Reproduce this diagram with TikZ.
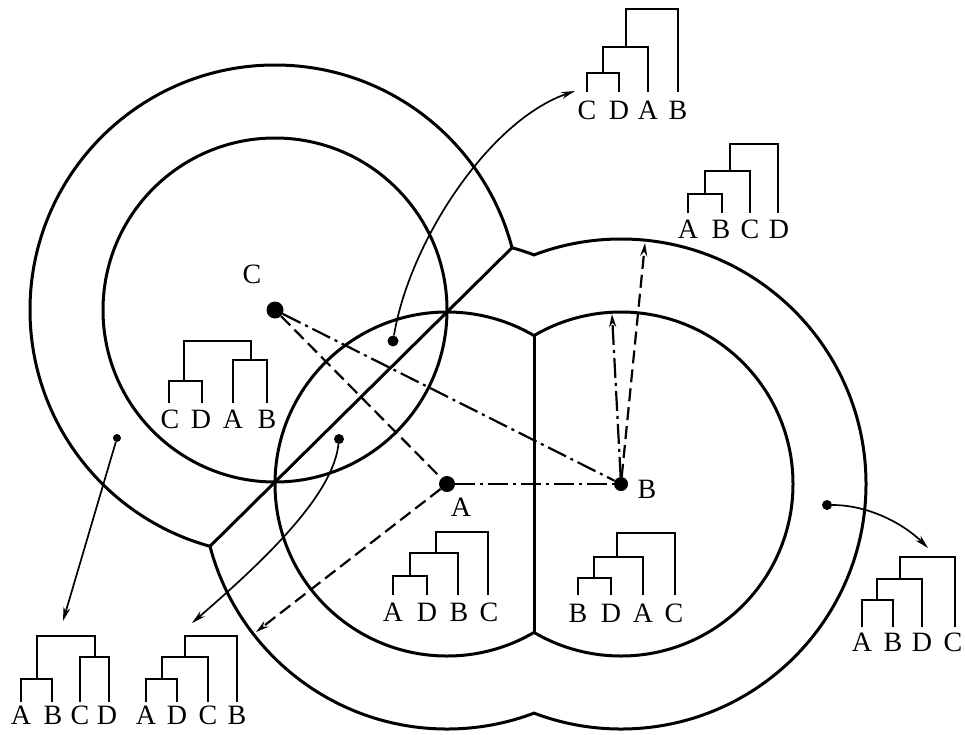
\documentclass[tikz,border=0pt]{standalone}
\usepackage{fontspec}
\setmainfont{Liberation Serif}
\usetikzlibrary{arrows.meta,calc}
\begin{document}
\begin{tikzpicture}[x=1pt,y=-1pt,
  ring/.style={line width=3pt},
  tree/.style={line width=2.5pt,line join=miter},
  lbl/.style={font=\fontsize{28}{28}\selectfont,inner sep=0pt,anchor=base},
  bigdot/.style={circle,fill=black,inner sep=0pt,minimum size=#1},
  smalldot/.style={circle,fill=black,inner sep=0pt,minimum size=#1},
  conn/.style={line width=2.2pt},
  longdash/.style={conn,dash pattern=on 13pt off 6pt},
  dashdotline/.style={conn,dash pattern=on 20pt off 5pt on 3pt off 5pt},
  tip/.style={-{Stealth[length=13pt,width=7pt]}},
  thin arrow/.style={line width=1.7pt,-{Stealth[length=14pt,width=7pt]}}
]
\useasboundingbox (0,0) rectangle (965,734);

% geometry
\coordinate (Cc) at (275,310);
\coordinate (Ac) at (447,484);
\coordinate (Bc) at (621,484);
\coordinate (P1) at (511.97,247.77);
\coordinate (P2) at (210.03,546.23);

% inner circles
\draw[ring] (Cc) circle[radius=172];
\begin{scope}
  \clip (-100,-100) rectangle (534,900);
  \draw[ring] (Ac) circle[radius=172];
\end{scope}
\begin{scope}
  \clip (534,-100) rectangle (1100,900);
  \draw[ring] (Bc) circle[radius=172];
\end{scope}
\draw[ring] (534,335.6) -- (534,632.4);

% outer circles
\begin{scope}
  \clip ($(P1)!-3!(P2)$) -- ($(P2)!-3!(P1)$) -- (-700,-700) -- cycle;
  \draw[ring] (Cc) circle[radius=245];
\end{scope}
\begin{scope}
  \clip ($(P1)!-3!(P2)$) -- ($(P2)!-3!(P1)$) -- (1500,1500) -- cycle;
  \clip (-100,-100) rectangle (534,900);
  \draw[ring] (Ac) circle[radius=245];
\end{scope}
\begin{scope}
  \clip (534,-100) rectangle (1100,900);
  \draw[ring] (Bc) circle[radius=245];
\end{scope}
\draw[ring] (P1) -- (P2);

% points
\node[bigdot=17pt] (C) at (Cc) {};
\node[bigdot=16pt] (A) at (Ac) {};
\node[bigdot=14pt] (B) at (Bc) {};
\node[lbl] (lC) at (252,283) {C};
\node[lbl] (lA) at (461,516) {A};
\node[lbl] (lB) at (647,498) {B};

\node[smalldot=11pt] (d1) at (393,341) {};
\node[smalldot=10pt] (d2) at (339,439) {};
\node[smalldot=8pt] (d3) at (117,438) {};
\node[smalldot=10pt] (d4) at (827,505) {};

\coordinate (t1) at (575,91);
\coordinate (t2) at (192,623);
\coordinate (t3) at (63,621);
\coordinate (t4) at (928,548);
\coordinate (tA) at (256,632);
\coordinate (tB1) at (612,314);
\coordinate (tB2) at (645,243);

% connectors
\draw[longdash] (C) -- (A);
\draw[dashdotline] (C) -- (B);
\draw[dashdotline] (A) -- (B);
\draw[dashdotline,tip] (B) -- (tB1);
\draw[longdash,tip] (B) -- (tB2);
\draw[longdash,tip] (A) -- (tA);
\draw[thin arrow] (d1) .. controls (410,240) and (490,120) .. (t1);
\draw[thin arrow] (d2) .. controls (333,495) and (265,560) .. (t2);
\draw[thin arrow] (d3) -- (t3);
\draw[thin arrow] (d4) .. controls (870,505) and (905,525) .. (t4);

% tree 1: ((C,D),A),B
\draw[tree] (587,92) -- (587,73) -- (619,73) -- (619,92)
  (603,73) -- (603,47) -- (648,47) -- (648,92)
  (626,47) -- (626,9) -- (678,9) -- (678,92);
\node[lbl] (t1C) at (587,119) {C};
\node[lbl] (t1D) at (619,119) {D};
\node[lbl] (t1A) at (648,119) {A};
\node[lbl] (t1B) at (678,119) {B};

% tree 2: ((A,B),C),D
\draw[tree] (688,213) -- (688,194) -- (722,194) -- (722,213)
  (705,194) -- (705,171) -- (750,171) -- (750,213)
  (730,171) -- (730,144) -- (778,144) -- (778,213);
\node[lbl] (t2A) at (688,238) {A};
\node[lbl] (t2B) at (721,238) {B};
\node[lbl] (t2C) at (750,238) {C};
\node[lbl] (t2D) at (779,238) {D};

% tree 3: (C,D),(A,B)
\draw[tree] (169,403) -- (169,381) -- (202,381) -- (202,403)
  (233,403) -- (233,360) -- (267,360) -- (267,403)
  (184,381) -- (184,341) -- (251,341) -- (251,360);
\node[lbl] (t3C) at (170,428) {C};
\node[lbl] (t3D) at (201,428) {D};
\node[lbl] (t3A) at (233,428) {A};
\node[lbl] (t3B) at (267,428) {B};

% tree 4: ((A,D),B),C
\draw[tree] (393,595) -- (393,576) -- (427,576) -- (427,595)
  (410,576) -- (410,553) -- (458,553) -- (458,595)
  (436,553) -- (436,532) -- (488,532) -- (488,595);
\node[lbl] (t4A) at (393,621) {A};
\node[lbl] (t4D) at (427,621) {D};
\node[lbl] (t4B) at (459,621) {B};
\node[lbl] (t4C) at (489,621) {C};

% tree 5: ((B,D),A),C
\draw[tree] (578,595) -- (578,578) -- (611,578) -- (611,595)
  (594,578) -- (594,557) -- (643,557) -- (643,595)
  (617,557) -- (617,533) -- (675,533) -- (675,595);
\node[lbl] (t5B) at (578,622) {B};
\node[lbl] (t5D) at (611,622) {D};
\node[lbl] (t5A) at (643,622) {A};
\node[lbl] (t5C) at (674,622) {C};

% tree 6: ((A,B),D),C
\draw[tree] (862,627) -- (862,600) -- (893,600) -- (893,627)
  (877,600) -- (877,579) -- (922,579) -- (922,627)
  (900,579) -- (900,557) -- (955,557) -- (955,627);
\node[lbl] (t6A) at (862,651) {A};
\node[lbl] (t6B) at (893,651) {B};
\node[lbl] (t6D) at (922,651) {D};
\node[lbl] (t6C) at (953,651) {C};

% tree 7: (A,B),(C,D)
\draw[tree] (21,702) -- (21,679) -- (52,679) -- (52,702)
  (80,702) -- (80,657) -- (109,657) -- (109,702)
  (37,679) -- (37,636) -- (95,636) -- (95,657);
\node[lbl] (t7A) at (21,724) {A};
\node[lbl] (t7B) at (53,724) {B};
\node[lbl] (t7C) at (80,724) {C};
\node[lbl] (t7D) at (107,724) {D};

% tree 8: ((A,D),C),B
\draw[tree] (146,702) -- (146,679) -- (177,679) -- (177,702)
  (162,679) -- (162,657) -- (208,657) -- (208,702)
  (185,657) -- (185,636) -- (237,636) -- (237,702);
\node[lbl] (t8A) at (146,724) {A};
\node[lbl] (t8D) at (177,724) {D};
\node[lbl] (t8C) at (208,724) {C};
\node[lbl] (t8B) at (237,724) {B};
\end{tikzpicture}
\end{document}
